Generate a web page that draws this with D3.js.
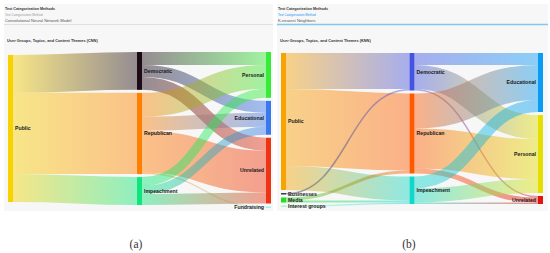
<!DOCTYPE html>
<html>
<head>
<meta charset="utf-8">
<script src="https://cdn.jsdelivr.net/npm/d3@7"></script>
<style>
  body { margin: 0; background: #fff; }
  svg { display: block; font-family: "Liberation Sans", Arial, sans-serif; }
</style>
</head>
<body>
<svg id="chart" width="550" height="253"></svg>
<script>
// ---- panel (a): CNN ----
const nodesA = ["Public", "Democratic", "Republican", "Impeachment", "Personal", "Educational", "Unrelated", "Fundraising"];
const columnsA = [0, 1, 1, 1, 2, 2, 2, 2];
const linksA = [
    ["Public", "Democratic", 38],
    ["Public", "Republican", 81.5],
    ["Public", "Impeachment", 28],
    ["Democratic", "Personal", 13],
    ["Democratic", "Educational", 12],
    ["Democratic", "Unrelated", 13],
    ["Republican", "Personal", 24],
    ["Republican", "Educational", 14],
    ["Republican", "Unrelated", 42],
    ["Republican", "Fundraising", 1.5],
    ["Impeachment", "Personal", 9],
    ["Impeachment", "Educational", 8],
    ["Impeachment", "Unrelated", 11]
];

// ---- panel (b): KNN ----
const nodesB = ["Public", "Businesses", "Media", "Interest groups", "Democratic", "Republican", "Impeachment", "Educational", "Personal", "Unrelated"];
const columnsB = [0, 0, 0, 0, 1, 1, 1, 2, 2, 2];
const linksB = [
    ["Public", "Democratic", 36],
    ["Public", "Republican", 77],
    ["Public", "Impeachment", 24],
    ["Businesses", "Democratic", 1.5],
    ["Media", "Republican", 3],
    ["Media", "Impeachment", 2],
    ["Interest groups", "Impeachment", 1.5],
    ["Democratic", "Educational", 12],
    ["Democratic", "Personal", 24],
    ["Democratic", "Unrelated", 1.5],
    ["Republican", "Educational", 35],
    ["Republican", "Personal", 40],
    ["Republican", "Unrelated", 5],
    ["Impeachment", "Educational", 12],
    ["Impeachment", "Personal", 14],
    ["Impeachment", "Unrelated", 1.5]
];

// node colours
const colorsA = ["#f7d100", "#1d0b16", "#ff8000", "#0ee67c", "#36ec36", "#3a78ee", "#ee3412", "#a6ecec"];
const colorsB = ["#f9a300", "#3a3a4a", "#22dd22", "#a8f2d2", "#4454e0", "#ff5a00", "#10d8c8", "#0a9cf5", "#e4df00", "#e0140c"];

const svg = d3.select("#chart");
const defs = svg.append("defs");

function layout(names, cols, links, x0, x1, y0, y1, pad, nodeW) {
    const nodes = names.map((name, i) => ({ name, col: cols[i], inL: [], outL: [] }));
    const byName = new Map(nodes.map(n => [n.name, n]));
    const ls = links.map(([s, t, v]) => {
        const l = { source: byName.get(s), target: byName.get(t), value: v };
        l.source.outL.push(l);
        l.target.inL.push(l);
        return l;
    });
    nodes.forEach(n => {
        n.value = Math.max(d3.sum(n.inL, l => l.value), d3.sum(n.outL, l => l.value));
    });

    const x = d3.scaleLinear().domain([0, d3.max(cols)]).range([x0, x1 - nodeW]);
    const groups = d3.groups(nodes, n => n.col);

    // the tightest column sets the value -> pixel scale
    let best = null;
    groups.forEach(([c, g]) => {
        const avail = (y1 - y0) - (g.length - 1) * pad;
        const sum = d3.sum(g, n => n.value);
        if (!best || avail / sum < best.avail / best.sum) best = { avail, sum };
    });
    const h = d3.scaleLinear().domain([0, best.sum]).range([0, best.avail]);

    groups.forEach(([c, g]) => {
        let y = y0;
        g.forEach(n => {
            n.x0 = x(c);
            n.x1 = n.x0 + nodeW;
            n.y0 = y;
            n.y1 = y + h(n.value);
            y = n.y1 + pad;
        });
    });
    // a lone node is centred on the middle column
    const mid = groups.find(([c]) => c === 1)[1];
    const midC = (mid[0].y0 + mid[mid.length - 1].y1) / 2;
    groups.forEach(([c, g]) => {
        if (g.length === 1) {
            const n = g[0], ht = n.y1 - n.y0;
            n.y0 = midC - ht / 2;
            n.y1 = midC + ht / 2;
        }
    });

    nodes.forEach(n => {
        let sy = n.y0;
        n.outL.sort((a, b) => a.target.y0 - b.target.y0).forEach(l => {
            l.width = h(l.value);
            l.sy = sy + l.width / 2;
            sy += l.width;
        });
        let ty = n.y0;
        n.inL.sort((a, b) => a.source.y0 - b.source.y0).forEach(l => {
            l.ty = ty + h(l.value) / 2;
            ty += h(l.value);
        });
    });
    return { nodes, links: ls };
}

const linkPath = d3.linkHorizontal();

function drawSankey(id, data, colors) {
    const color = d3.scaleOrdinal().domain(data.nodes.map(n => n.name)).range(colors);
    const g = svg.append("g");

    g.append("g").selectAll("path")
        .data(data.links)
        .join("path")
        .attr("d", l => linkPath({ source: [l.source.x1, l.sy], target: [l.target.x0, l.ty] }))
        .attr("fill", "none")
        .attr("stroke-opacity", 0.45)
        .attr("stroke-width", l => Math.max(0.8, l.width))
        .attr("stroke", (l, i) => {
            const gid = `${id}-grad-${i}`;
            const grad = defs.append("linearGradient")
                .attr("id", gid)
                .attr("gradientUnits", "userSpaceOnUse")
                .attr("x1", l.source.x1).attr("x2", l.target.x0)
                .attr("y1", 0).attr("y2", 0);
            grad.append("stop").attr("offset", "0%").attr("stop-color", color(l.source.name));
            grad.append("stop").attr("offset", "100%").attr("stop-color", color(l.target.name));
            return `url(#${gid})`;
        });

    g.append("g").selectAll("rect")
        .data(data.nodes)
        .join("rect")
        .attr("x", n => n.x0)
        .attr("y", n => n.y0)
        .attr("width", n => n.x1 - n.x0)
        .attr("height", n => Math.max(1, n.y1 - n.y0))
        .attr("fill", n => color(n.name));

    g.append("g").selectAll("text")
        .data(data.nodes)
        .join("text")
        .attr("x", n => n.col === 2 ? n.x0 - 2 : n.x1 + 2)
        .attr("y", n => (n.y0 + n.y1) / 2)
        .attr("dy", "0.35em")
        .attr("text-anchor", n => n.col === 2 ? "end" : "start")
        .attr("font-size", 5.2)
        .attr("font-weight", "bold")
        .attr("fill", "#1a1a1a")
        .text(n => n.name);
}

function drawCard(x, w, method, title, accent) {
    const g = svg.append("g");
    g.append("rect").attr("x", x).attr("y", 4).attr("width", w).attr("height", 207).attr("fill", "#f7f7f7");
    g.append("text").attr("x", x + 1).attr("y", 9.5).attr("font-size", 3.7).attr("font-weight", "bold")
        .attr("fill", "#333").text("Text Categorization Methods");
    g.append("text").attr("x", x + 1).attr("y", 15.5).attr("font-size", 3.1)
        .attr("fill", accent ? "#2196f3" : "#9a9a9a").text("Text Categorization Method");
    g.append("text").attr("x", x + 1).attr("y", 21.6).attr("font-size", 4.1)
        .attr("fill", "#555").text(method);
    g.append("line").attr("x1", x).attr("x2", x + w).attr("y1", 24.5).attr("y2", 24.5)
        .attr("stroke", accent ? "#80c8f0" : "#d6d6d6").attr("stroke-width", accent ? 1.4 : 0.7);
    g.append("text").attr("x", x + 3).attr("y", 41.5).attr("font-size", 3.9).attr("font-weight", "bold")
        .attr("fill", "#333").text(title);
}

drawCard(4, 269, "Convolutional Neural Network Model", "User Groups, Topics, and Content Themes (CNN)", false);
drawCard(277, 271, "K-nearest Neighbors", "User Groups, Topics, and Content Themes (KNN)", true);

drawSankey("a", layout(nodesA, columnsA, linksA, 8, 271, 52, 208, 3, 5), colorsA);
drawSankey("b", layout(nodesB, columnsB, linksB, 281, 543, 53, 207, 3, 5), colorsB);

svg.append("g").selectAll("text")
    .data(["(a)", "(b)"])
    .join("text")
    .attr("x", (d, i) => i === 0 ? 136 : 409)
    .attr("y", 248)
    .attr("text-anchor", "middle")
    .attr("font-size", 11.5)
    .style("font-family", "'Liberation Serif', 'Times New Roman', serif")
    .attr("fill", "#333")
    .text(d => d);
</script>
</body>
</html>
